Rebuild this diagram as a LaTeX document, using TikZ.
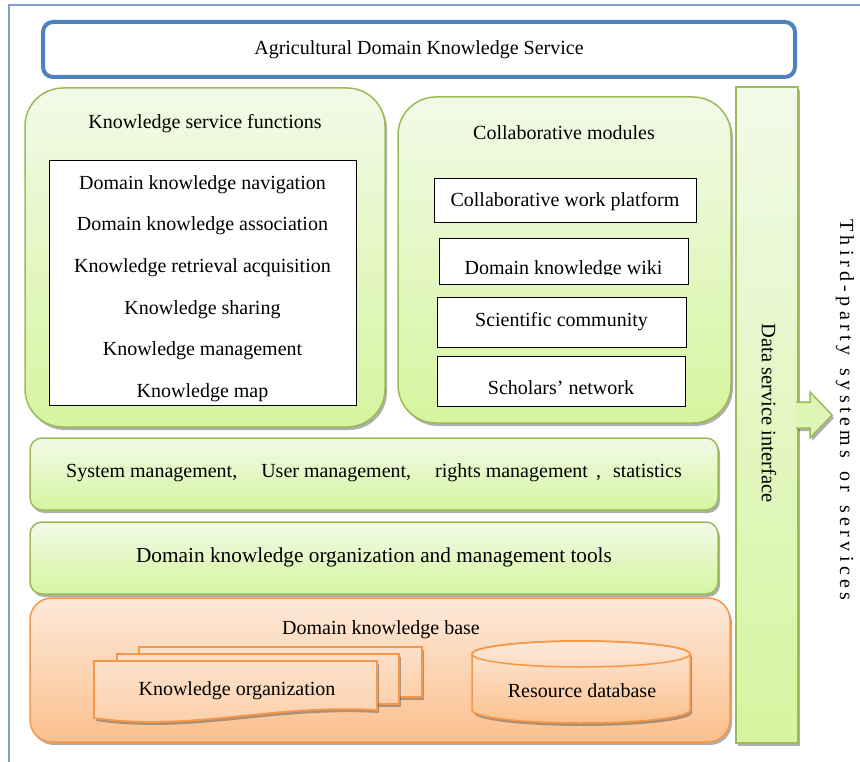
\documentclass[tikz,border=0pt]{standalone}
\usepackage{fontspec}
\setmainfont{Liberation Serif}
\usetikzlibrary{shadows}

\definecolor{frameblue}{HTML}{7F9FD3}
\definecolor{titleblue}{HTML}{4F81BD}
\definecolor{grnline}{HTML}{9BBB59}
\definecolor{grntop}{HTML}{F2FAE8}
\definecolor{grnbot}{HTML}{D5F59F}
\definecolor{orgline}{HTML}{F79646}
\definecolor{orgtop}{HTML}{FDE9D9}
\definecolor{orgbot}{HTML}{FBC08E}

\begin{document}
\begin{tikzpicture}[x=1pt,y=1pt,
	font=\fontsize{20}{24}\selectfont,
	boxshadow/.style={drop shadow={shadow xshift=2pt,shadow yshift=-3pt,fill=black!70,opacity=0.45}},
	greenbox/.style={draw=grnline,line width=1.5pt,top color=grntop,bottom color=grnbot,boxshadow},
	orangebox/.style={draw=orgline,line width=1.5pt,top color=orgtop,bottom color=orgbot,boxshadow},
	whitebox/.style={draw=black,line width=0.8pt,fill=white},
	sheet/.style={draw=orgline,line width=1.8pt,top color=orgtop!80!orgbot,bottom color=orgtop!35!orgbot,boxshadow}]
	\useasboundingbox (0,0) rectangle (860,-762);
	
	%OUTER FRAME
	\draw[frameblue,line width=1.2pt] (9,-762)--(9,-5)--(860,-5);
	
	%TITLE
	\node[draw=titleblue,line width=4pt,rounded corners=10pt,minimum width=752pt,minimum height=55pt] (title) at (419,-49.5) {};
	\node (titlelbl) at (419,-50) {Agricultural Domain Knowledge Service};
	
	%KNOWLEDGE SERVICE FUNCTIONS
	\node[greenbox,rounded corners=38pt,minimum width=360pt,minimum height=339pt] (ksf) at (205,-257.5) {};
	\node (ksflbl) at (205,-124) {Knowledge service functions};
	\node[whitebox,minimum width=307pt,minimum height=245pt] (ksflist) at (202.5,-282.5) {};
	\node[align=center,font=\fontsize{20}{41.6}\selectfont] (ksfitems) at (202.5,-288.5) {%
		Domain knowledge navigation\\
		Domain knowledge association\\
		Knowledge retrieval acquisition\\
		Knowledge sharing\\
		Knowledge management\\
		Knowledge map};
	
	%COLLABORATIVE MODULES
	\node[greenbox,rounded corners=38pt,minimum width=333pt,minimum height=326pt] (collab) at (564.5,-260) {};
	\node (collablbl) at (564,-133) {Collaborative modules};
	\node[whitebox,minimum width=262pt,minimum height=44pt] (cwp) at (565,-200) {};
	\node (cwplbl) at (565,-202) {Collaborative work platform};
	\node[whitebox,minimum width=249pt,minimum height=46pt] (wiki) at (563.5,-261) {};
	\begin{scope}
		\clip (439,-238) rectangle (688,-274.5);
		\node[anchor=base] (wikilbl) at (563.5,-274.5) {Domain knowledge wiki};
	\end{scope}
	\node[whitebox,minimum width=249pt,minimum height=50pt] (scicom) at (561.5,-322) {};
	\node (scicomlbl) at (561.5,-322) {Scientific community};
	\node[whitebox,minimum width=248pt,minimum height=50pt] (scholar) at (561,-381) {};
	\node (scholarlbl) at (561,-388) {Scholars' network};
	
	%MANAGEMENT BARS
	\node[greenbox,rounded corners=12pt,minimum width=688pt,minimum height=72pt] (sysmgmt) at (374,-474) {};
	\node (sysmgmtlbl) at (374,-473) {System management,\hspace{24pt}User management,\hspace{24pt}rights management\hspace{8pt},\hspace{12pt}statistics};
	\node[greenbox,rounded corners=12pt,minimum width=688pt,minimum height=72pt] (tools) at (374,-558) {};
	\node[font=\fontsize{21.3}{25}\selectfont] (toolslbl) at (374,-557) {Domain knowledge organization and management tools};
	
	%DOMAIN KNOWLEDGE BASE
	\node[orangebox,rounded corners=22pt,minimum width=700pt,minimum height=144pt] (dkb) at (380,-670) {};
	\node (dkblbl) at (381,-630) {Domain knowledge base};
	%
	\draw[sheet] (139,-647) rectangle (422,-697);
	\draw[sheet] (117,-654) rectangle (399,-704);
	\draw[sheet] (94,-661)--(377,-661)--(377,-710) .. controls (270,-704) and (190,-732) .. (94,-718)--cycle;
	\node (korg) at (237,-691) {Knowledge organization};
	%
	\draw[orangebox,line width=1.5pt] (472,-654)--(472,-710) arc[start angle=180,end angle=360,x radius=109,y radius=13]--(690,-654) arc[start angle=0,end angle=180,x radius=109,y radius=13]--cycle;
	\draw[orgline,line width=1.5pt] (581,-654) ellipse [x radius=109,y radius=13];
	\node (resdb) at (582,-691) {Resource database};
	
	%DATA SERVICE INTERFACE
	\node[greenbox,minimum width=62pt,minimum height=656pt] (dsi) at (767,-415) {};
	\node[rotate=-90,font=\fontsize{20.5}{24}\selectfont] (dsilbl) at (769,-413) {Data service interface};
	\filldraw[draw=grnline,line width=1.5pt,fill=grnbot!70!grntop,boxshadow] (796,-402)--(810,-402)--(810,-392)--(832,-415)--(810,-438)--(810,-428)--(796,-428);
	\node[rotate=-90,font=\fontsize{20}{24}\selectfont\addfontfeatures{LetterSpace=22}] (third) at (845,-410) {Third-party\hspace{13pt}systems\hspace{13pt}or\hspace{13pt}services};
\end{tikzpicture}
\end{document}
